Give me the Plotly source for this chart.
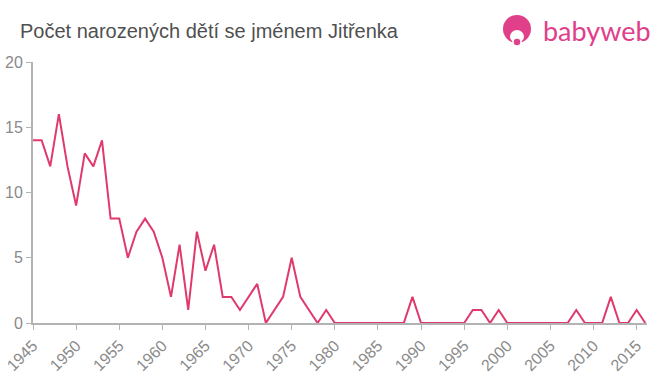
import plotly.graph_objects as go

years = list(range(1945, 2017))
counts = [14, 14, 12, 16, 12, 9, 13, 12, 14, 8,
          8, 5, 7, 8, 7, 5, 2, 6, 1, 7,
          4, 6, 2, 2, 1, 2, 3, 0, 1, 2,
          5, 2, 1, 0, 1, 0, 0, 0, 0, 0,
          0, 0, 0, 0, 2, 0, 0, 0, 0, 0,
          0, 1, 1, 0, 1, 0, 0, 0, 0, 0,
          0, 0, 0, 1, 0, 0, 0, 2, 0, 0,
          1, 0]
x_ticks = list(range(1945, 2016, 5))
y_ticks = [0, 5, 10, 15, 20]

title_text = "Počet narozených dětí se jménem Jitřenka"
logo_text = "babyweb"

L, T, PW, PH = 33, 62, 614, 261

fig = go.Figure()
fig.add_trace(go.Scatter(
    x=years, y=counts, mode="lines",
    line=dict(color="#e0396c", width=2),
    hoverinfo="x+y",
))

axis_font = dict(family="Liberation Sans, Arial, sans-serif", size=16, color="#8a8a8a")

fig.update_layout(
    width=660, height=375,
    margin=dict(l=L, r=660 - L - PW, t=T, b=375 - T - PH, autoexpand=False),
    paper_bgcolor="white", plot_bgcolor="white",
    showlegend=False,
    xaxis=dict(
        range=[1945, 2016.2], tickvals=x_ticks, ticktext=[str(v) for v in x_ticks],
        tickangle=-45, tickfont=axis_font, automargin=False,
        showgrid=False, zeroline=False,
        showline=True, linecolor="#b3b3b3", linewidth=2,
        ticks="outside", tickcolor="#b3b3b3", ticklen=5, tickwidth=1,
    ),
    yaxis=dict(
        range=[0, 20], tickvals=y_ticks, tickfont=axis_font, automargin=False,
        showgrid=False, zeroline=False,
        showline=True, linecolor="#b3b3b3", linewidth=2,
        ticks="outside", tickcolor="#b3b3b3", ticklen=5, tickwidth=1,
    ),
)


def px_x(x):
    return (x - L) / PW


def px_y(y):
    return 1 + (T - y) / PH


fig.add_annotation(
    text=title_text, xref="paper", yref="paper",
    x=px_x(18), y=px_y(31), xanchor="left", yanchor="middle",
    showarrow=False,
    font=dict(family="Liberation Sans, Arial, sans-serif", size=20, color="#505050"),
)
fig.add_annotation(
    text=logo_text, xref="paper", yref="paper",
    x=px_x(653), y=px_y(30), xanchor="right", yanchor="middle",
    showarrow=False,
    font=dict(family="Lato, Roboto, sans-serif", size=27, color="#e0408a"),
)
# logo circle
cx, cy, r = 517, 29, 14
fig.add_shape(
    type="circle", xref="paper", yref="paper",
    x0=px_x(cx - r), x1=px_x(cx + r),
    y0=px_y(cy + r), y1=px_y(cy - r),
    fillcolor="#e0408a", line=dict(width=0),
)
fig.add_shape(
    type="circle", xref="paper", yref="paper",
    x0=px_x(cx - 7), x1=px_x(cx + 7),
    y0=px_y(cy + 14), y1=px_y(cy + 1),
    fillcolor="white", line=dict(width=0),
)
fig.add_shape(
    type="circle", xref="paper", yref="paper",
    x0=px_x(cx - 4), x1=px_x(cx + 4),
    y0=px_y(cy + 17), y1=px_y(cy + 9),
    fillcolor="#e0408a", line=dict(color="white", width=1.5),
)

fig.write_html(
    "out.html",
    config={"displayModeBar": False},
    post_script="document.body.style.margin='0';document.body.style.overflow='hidden';",
)
